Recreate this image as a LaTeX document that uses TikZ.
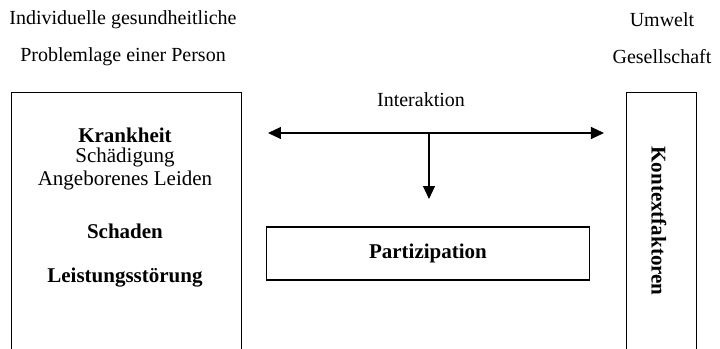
\documentclass[tikz,border=0pt]{standalone}
\usepackage{fontspec}
\setmainfont{Liberation Serif}
\usetikzlibrary{arrows.meta,positioning}
\begin{document}
\begin{tikzpicture}
  [x=0.5pt,y=-0.5pt,
   box/.style={draw,line width=0.6pt,inner sep=0pt},
   lbl/.style={font=\fontsize{10}{12}\selectfont},
   big/.style={font=\fontsize{10.5}{12}\selectfont},
   bold/.style={font=\fontsize{10.5}{12}\selectfont\bfseries},
   arr/.style={line width=0.6pt,-{Triangle[length=6.5pt,width=6pt]}}]
  \useasboundingbox (0,0) rectangle (720,349);
  \clip (0,0) rectangle (720,349);
  \node[lbl] (ind) at (123,20) {Individuelle gesundheitliche};
  \node[lbl] (prob) at (123,57) {Problemlage einer Person};
  \node[lbl] (umw) at (662,20) {Umwelt};
  \node[lbl] (ges) at (662,57) {Gesellschaft};
  % boxes run off the bottom of the page
  \node[box,anchor=north west,minimum width=115pt,minimum height=150pt] (person) at (11,92) {};
  \node[box,anchor=north west,minimum width=35pt,minimum height=150pt] (kontext) at (626,92) {};
  \node[bold] (krank) at (125,135) {Krankheit};
  \node[big] (schaed) at (125,157) {Schädigung};
  \node[big] (leiden) at (125,180) {Angeborenes Leiden};
  \node[bold] (schaden) at (125,231) {Schaden};
  \node[bold] (leist) at (125,278) {Leistungsstörung};
  \node[bold,rotate=-90] (kf) at (659,221) {Kontextfaktoren};
  \node[box,minimum width=161.5pt,minimum height=26.5pt] (part) at (428,253.5) {};
  \node[bold] (parttxt) at (part) {Partizipation};
  \node[lbl] (inter) at (421,100) {Interaktion};
  \coordinate (il) at (268,133);
  \coordinate (ir) at (604,133);
  \coordinate (im) at (429,133);
  \coordinate (iv) at (429,199);
  \draw[arr,{Triangle[length=6.5pt,width=6pt]}-{Triangle[length=6.5pt,width=6pt]}] (il) -- (ir);
  \draw[arr] (im) -- (iv);
\end{tikzpicture}
\end{document}
